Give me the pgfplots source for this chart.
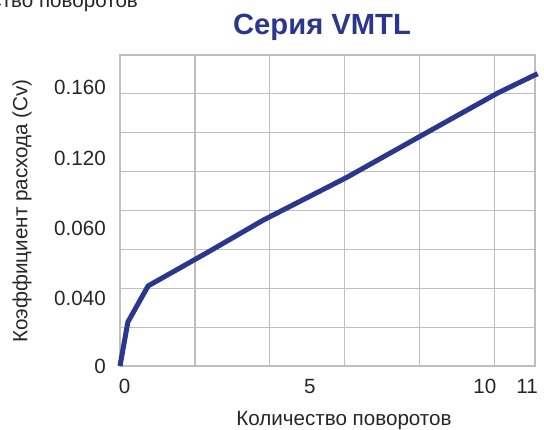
\documentclass[border=0pt]{standalone}
\usepackage{pgfplots}
\pgfplotsset{compat=1.18}
\usepackage{fontspec}
\setmainfont{Liberation Sans}
\definecolor{vblue}{RGB}{43,55,140}
\definecolor{gridgray}{RGB}{190,190,190}
\begin{document}
\begin{tikzpicture}[x=0.5pt,y=0.5pt]
\useasboundingbox (0,0) rectangle (544,429);
\begin{axis}[
  at={(60pt,31.5pt)}, anchor=south west,
  width=207.5pt, height=155.5pt, scale only axis,
  xmin=0, xmax=11.08, ymin=0, ymax=8,
  axis line style={gridgray, line width=0.8pt},
  grid=major, grid style={gridgray, line width=0.6pt},
  xtick={0,2,4,6,8,10}, xticklabels={},
  ytick={0,1,...,8}, yticklabels={},
  major tick length=0pt,
  extra x ticks={0.12,5.07,9.74,10.87},
  extra x tick labels={0,5,10,11},
  extra y ticks={0,1.73,3.54,5.35,7.16},
  extra y tick labels={0,0.040,0.060,0.120,0.160},
  extra tick style={grid=none, major tick length=0pt},
  tick label style={font=\fontsize{10.3}{12}\selectfont, text=black!85},
  xticklabel style={yshift=-3.2pt},
  yticklabel style={xshift=-3.6pt},
  /pgf/number format/assume math mode=true,
  clip=false,
]
\addplot[vblue, line width=2.5pt, line join=round] coordinates {
  (0,0) (0.21,1.13) (0.75,2.06) (2.35,2.93) (3.82,3.75) (6.07,4.86)
  (8.07,5.94) (10.08,7.02) (11.15,7.52)
};
\end{axis}
\node[anchor=base, text=vblue, font=\fontsize{14.6}{17}\selectfont\bfseries] at (322,394.5) {Серия VMTL};
\node[anchor=base, font=\fontsize{10.3}{12}\selectfont, text=black!85] at (344,4) {Количество поворотов};
\node[rotate=90, font=\fontsize{10.3}{12}\selectfont, text=black!85] at (22,218) {Коэффициент расхода (Cv)};
\node[anchor=base east, font=\fontsize{10.3}{12}\selectfont, text=black!85] at (145,421) {Количество поворотов};
\end{tikzpicture}
\end{document}
